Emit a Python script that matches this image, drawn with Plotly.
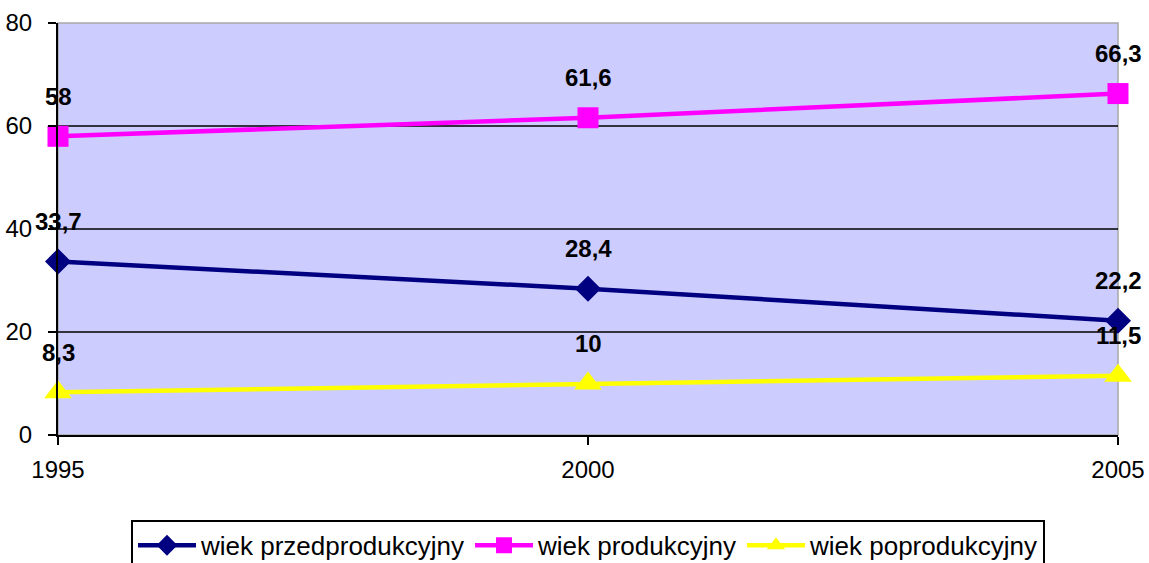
import plotly.graph_objects as go

# dane
lata = [1995, 2000, 2005]
przedprodukcyjny = [33.7, 28.4, 22.2]
produkcyjny = [58, 61.6, 66.3]
poprodukcyjny = [8.3, 10, 11.5]
etykiety_przed = ["33,7", "28,4", "22,2"]
etykiety_prod = ["58", "61,6", "66,3"]
etykiety_po = ["8,3", "10", "11,5"]
y_ticks = [0, 20, 40, 60, 80]

FONT = "Liberation Sans, Arial, sans-serif"

serie = [
    ("wiek przedprodukcyjny", przedprodukcyjny, etykiety_przed, "#000080", "diamond", 20),
    ("wiek produkcyjny", produkcyjny, etykiety_prod, "#FF00FF", "square", 21),
    ("wiek poprodukcyjny", poprodukcyjny, etykiety_po, "#FFFF00", "triangle-up", 24),
]

fig = go.Figure()
annotations = []
for nazwa, wartosci, etykiety, kolor, symbol, rozmiar in serie:
    fig.add_trace(go.Scatter(
        x=lata, y=wartosci, name=nazwa, mode="lines+markers",
        line=dict(color=kolor, width=4.5),
        marker=dict(symbol=symbol, size=rozmiar, color=kolor),
        cliponaxis=False,
    ))
    for x, y, t in zip(lata, wartosci, etykiety):
        annotations.append(dict(
            x=x, y=y, text="<b>%s</b>" % t, showarrow=False, yshift=40,
            font=dict(family=FONT, size=24, color="black"),
        ))

shapes = [dict(type="rect", xref="paper", yref="paper", x0=0, x1=1, y0=0, y1=1,
               line=dict(color="#A8A8A8", width=1.5), layer="below")]
for v in y_ticks[1:-1]:
    shapes.append(dict(type="line", xref="paper", yref="y", x0=0, x1=1, y0=v, y1=v,
                       line=dict(color="black", width=1.5), layer="below"))

fig.update_layout(
    width=1149, height=563,
    margin=dict(l=58, r=31, t=23, b=128, autoexpand=False),
    paper_bgcolor="white", plot_bgcolor="#CCCCFF",
    font=dict(family=FONT, size=24, color="black"),
    annotations=annotations, shapes=shapes,
    showlegend=True,
    legend=dict(orientation="h", x=0.5, xanchor="center", y=-0.206, yanchor="top",
                bordercolor="black", borderwidth=2, font=dict(size=26),
                itemwidth=58),
)
fig.update_xaxes(range=[1995, 2005], tickvals=lata, ticks="outside", ticklen=8,
                 tickcolor="black", tickwidth=1.5, showline=True, linecolor="black",
                 linewidth=2, showgrid=False, zeroline=False, ticklabelstandoff=4)
fig.update_yaxes(range=[0, 80], tickvals=y_ticks, ticks="outside", ticklen=8,
                 tickcolor="black", tickwidth=1.5, showline=True, linecolor="black",
                 linewidth=2, showgrid=False, zeroline=False, ticklabelstandoff=11)

fig.write_html("out.html", config={"displayModeBar": False},
               post_script="document.body.style.margin='0';")
